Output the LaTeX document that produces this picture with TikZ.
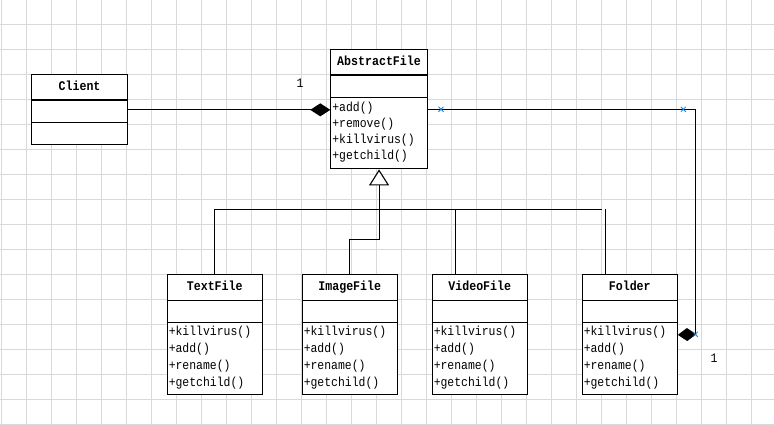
\documentclass[tikz,border=0pt]{standalone}
\usepackage{fontspec}
\setmonofont[FakeStretch=0.88]{Liberation Mono}
\usetikzlibrary{arrows.meta,calc}
\definecolor{gridgray}{RGB}{217,217,217}
\definecolor{markblue}{RGB}{20,130,220}
\tikzset{
  classbox/.style={draw,fill=white,anchor=north west,minimum width=95pt,inner sep=0pt},
  classname/.style={font=\ttfamily\bfseries\fontsize{13.2}{14}\selectfont,inner sep=0pt,text height=8.5pt,text depth=1.8pt},
  method/.style={font=\ttfamily\fontsize{13}{14}\selectfont,anchor=west,inner sep=0pt,text height=8.5pt,text depth=1.8pt},
  mult/.style={font=\ttfamily\fontsize{13}{14}\selectfont,inner sep=0pt},
  selmark/.style={markblue,line width=0.8pt}
}

\begin{document}
\begin{tikzpicture}[x=1pt,y=-1pt,line width=1.1pt]
\useasboundingbox (0,0) rectangle (774,425);
\foreach \gx in {0,...,30} \draw[gridgray,line width=0.8pt] (1.7+25*\gx,0) -- (1.7+25*\gx,425);
\foreach \gy in {0,...,16} \draw[gridgray,line width=0.8pt] (0,24.3+25*\gy) -- (774,24.3+25*\gy);

\node[classbox,minimum width=95.4pt,minimum height=70pt] (client) at (31.3,74.3) {};
\node[classname] (client-name) at ($(client.north)+(0,12.7)$) {Client};
\draw (client.west |- 0,100) -- (client.east |- 0,100);
\draw (client.west |- 0,122.3) -- (client.east |- 0,122.3);

\node[classbox,minimum width=96.4pt,minimum height=119pt] (abstract) at (330.3,49.3) {};
\node[classname] (abstract-name) at ($(abstract.north)+(0,12.4)$) {AbstractFile};
\draw (abstract.west |- 0,75) -- (abstract.east |- 0,75);
\draw (abstract.west |- 0,97.3) -- (abstract.east |- 0,97.3);
\node[method] (abstract-m1) at (331.8,107.7) {+add()};
\node[method] (abstract-m2) at (331.8,123.8) {+remove()};
\node[method] (abstract-m3) at (331.8,140.2) {+killvirus()};
\node[method] (abstract-m4) at (331.8,156.6) {+getchild()};

\foreach \cls/\cx/\cname in {textfile/166.7/TextFile,imagefile/301.7/ImageFile,videofile/431.7/VideoFile,folder/581.7/Folder} {
  \node[classbox,minimum height=120pt] (\cls) at (\cx,274.3) {};
  \node[classname] (\cls-name) at ($(\cls.north)+(0,12.4)$) {\cname};
  \draw (\cls.west |- 0,300.7) -- (\cls.east |- 0,300.7);
  \draw (\cls.west |- 0,322.3) -- (\cls.east |- 0,322.3);
  \node[method] (\cls-m1) at (\cx+1.5,332.3) {+killvirus()};
  \node[method] (\cls-m2) at (\cx+1.5,349.3) {+add()};
  \node[method] (\cls-m3) at (\cx+1.5,366.6) {+rename()};
  \node[method] (\cls-m4) at (\cx+1.5,383.3) {+getchild()};
}

\draw[-{Diamond[length=20pt,width=13pt]}] (client.east) -- (abstract.west |- client.east);
\node[mult] (mult-abstract) at (300,83.3) {1};

\coordinate (turn) at (695.3,334.3);
\draw (abstract.east |- client.east) -| (turn);
\draw[-{Diamond[length=18.5pt,width=13pt]}] (turn) -- (folder.east);
\node[mult] (mult-folder) at (714,358.3) {1};

\draw[-{Triangle[length=16pt,width=20pt,fill=white]}] (imagefile.north) -- ++(0,-35) -| (abstract.south);
\coordinate (busend) at (601.7,209.3);
\draw (textfile.north) |- (busend);
\draw ($(videofile.north west)+(23.6,0)$) -- ++(0,-65);
\draw ($(folder.north west)+(23.6,0)$) -- ++(0,-65);

\foreach \mx/\my in {441/109.3,683.3/109.3,695.3/334.3}
  \draw[selmark] (\mx-2.5,\my-2.5) -- (\mx+2.5,\my+2.5) (\mx-2.5,\my+2.5) -- (\mx+2.5,\my-2.5);
\end{tikzpicture}
\end{document}
